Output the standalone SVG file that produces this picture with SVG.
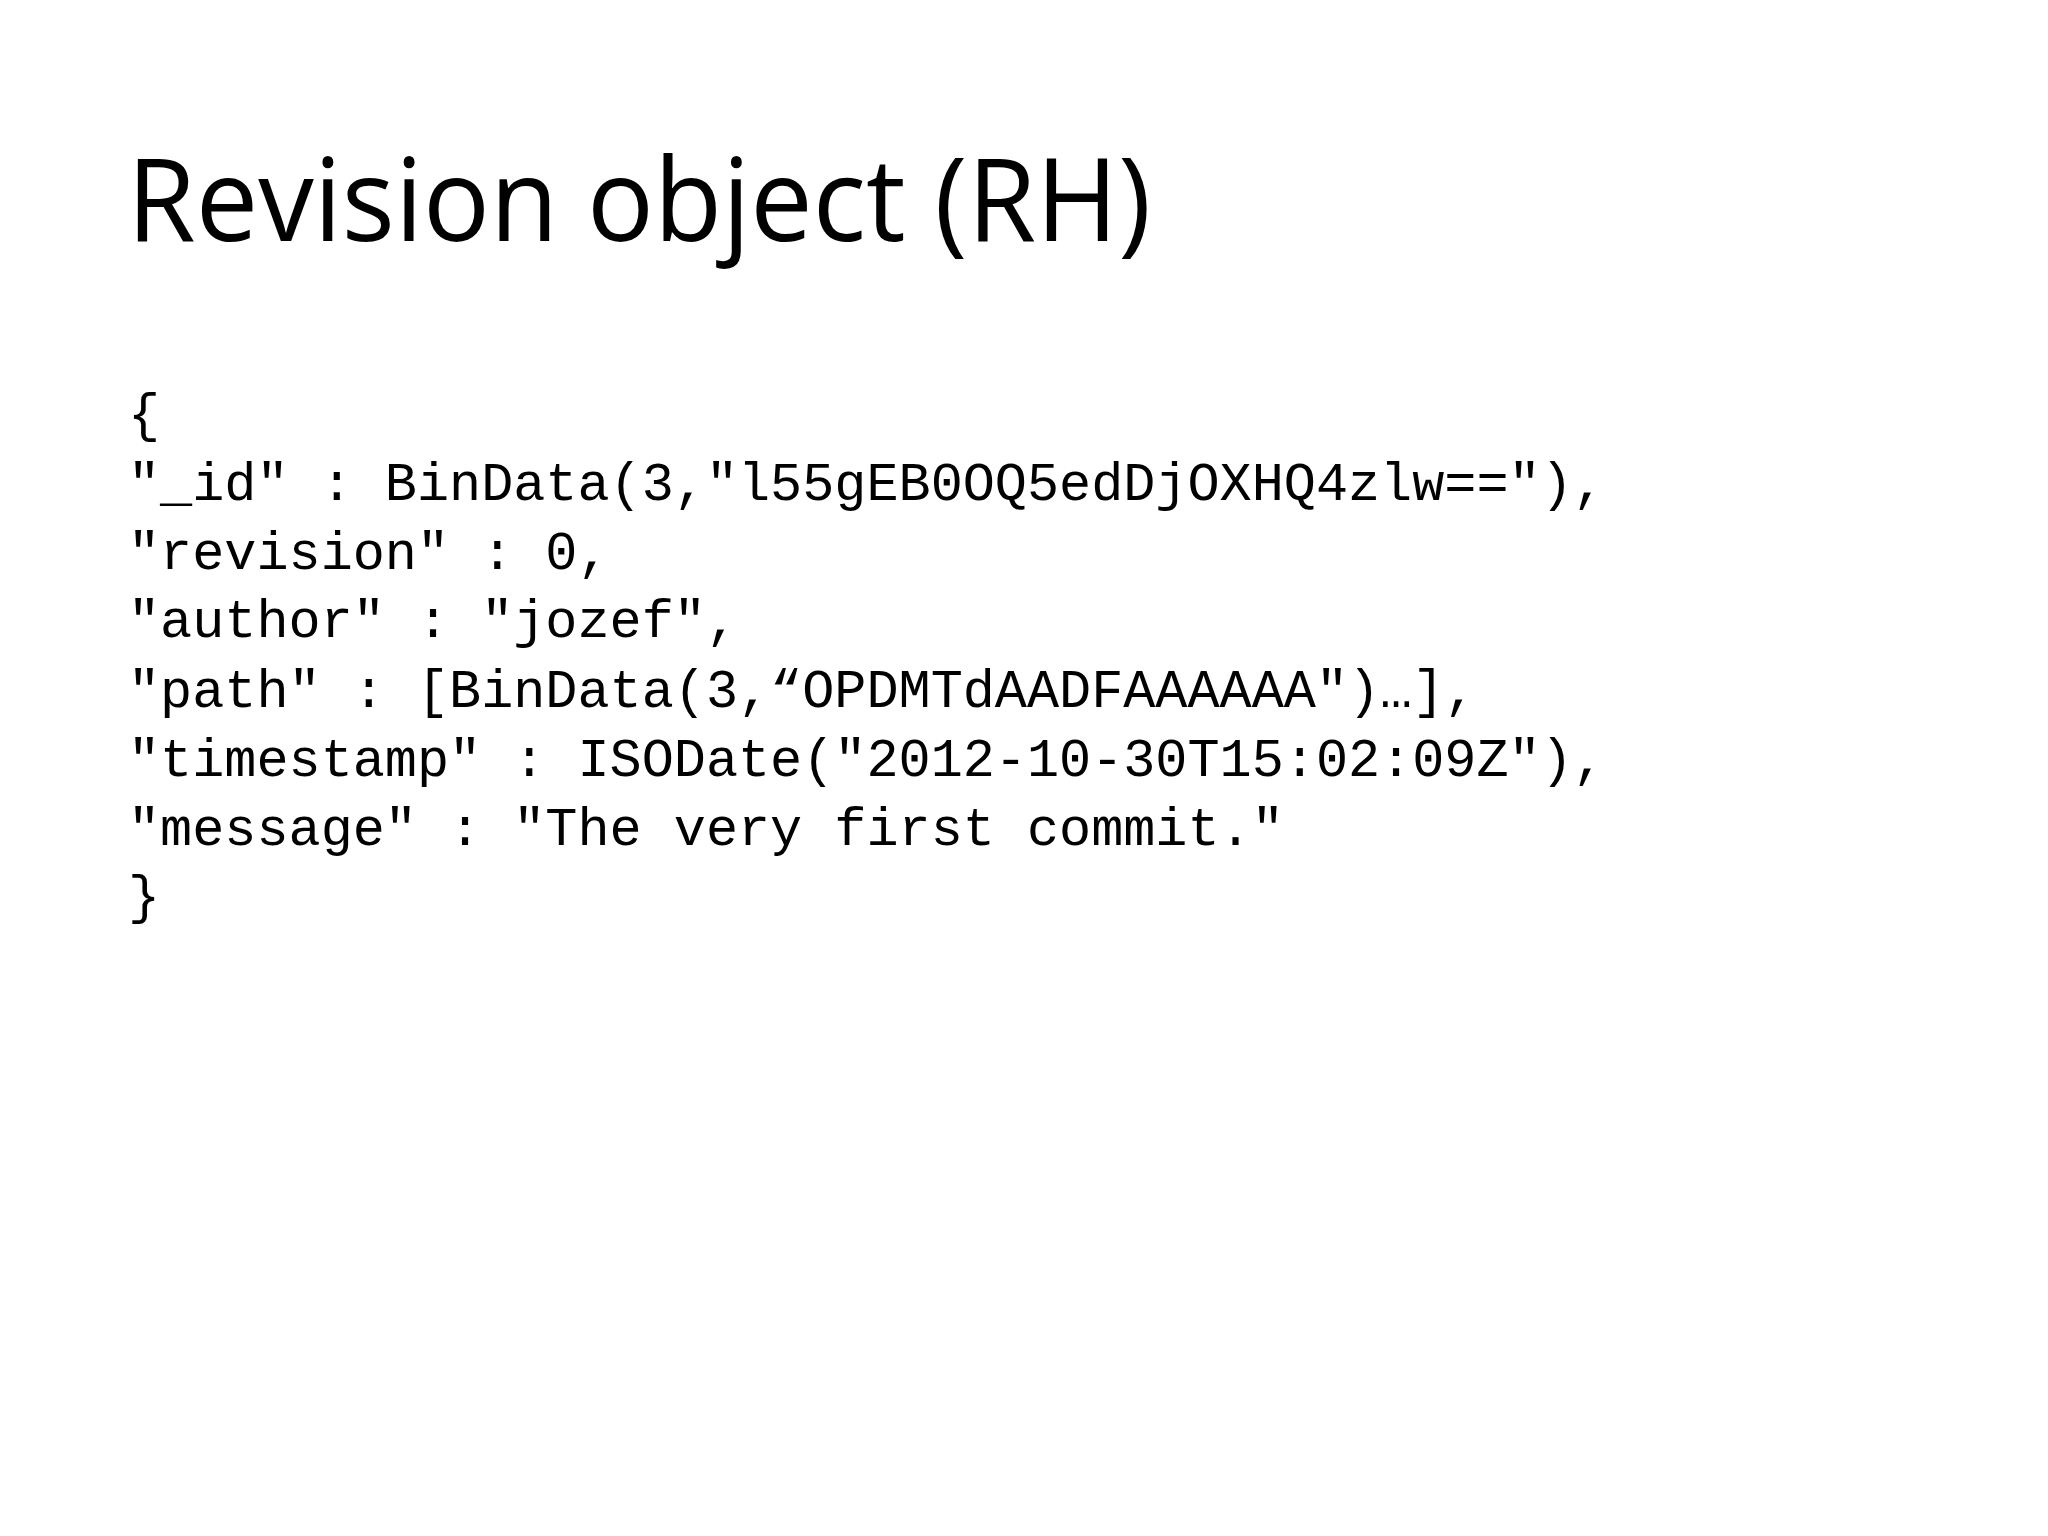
<svg xmlns="http://www.w3.org/2000/svg" width="2048" height="1536" viewBox="0 0 2048 1536">
<style>
.t{font-family:"Open Sans","Liberation Sans",sans-serif;font-size:116px;fill:#000}
.c{font-family:"Liberation Mono","DejaVu Sans Mono",monospace;font-size:53.5px;fill:#000;white-space:pre}
</style>
<rect width="2048" height="1536" fill="#fff"/>
<text class="t" x="127" y="241" textLength="1024" lengthAdjust="spacingAndGlyphs">Revision object (RH)</text>
<g id="code">
<text class="c" x="128" y="431">{</text>
<text class="c" x="128" y="500">"_id" : BinData(3,"l55gEB0OQ5edDjOXHQ4zlw=="),</text>
<text class="c" x="128" y="569">"revision" : 0,</text>
<text class="c" x="128" y="637">"author" : "jozef",</text>
<text class="c" x="128" y="707">"path" : [BinData(3,“OPDMTdAADFAAAAAA")…],</text>
<text class="c" x="128" y="776">"timestamp" : ISODate("2012-10-30T15:02:09Z"),</text>
<text class="c" x="128" y="845">"message" : "The very first commit."</text>
<text class="c" x="128" y="913">}</text>
</g>
</svg>
